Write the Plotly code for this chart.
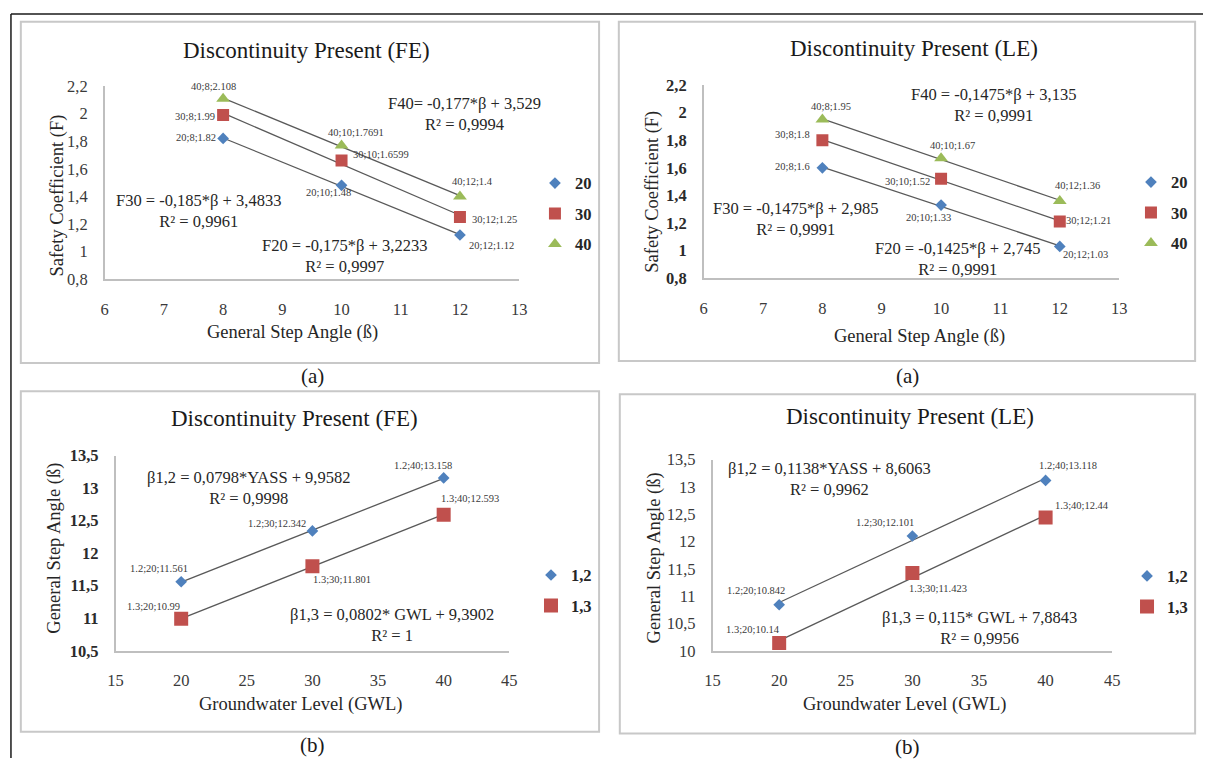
import numpy as np
import plotly.graph_objects as go

W, H = 1211, 768

# ---------------- data ----------------
angle_x = [8, 10, 12]
fe_f20 = [1.82, 1.48, 1.12]
fe_f30 = [1.99, 1.6599, 1.25]
fe_f40 = [2.108, 1.7691, 1.4]
le_f20 = [1.6, 1.33, 1.03]
le_f30 = [1.8, 1.52, 1.21]
le_f40 = [1.95, 1.67, 1.36]

gwl_x = [20, 30, 40]
fe_b12 = [11.561, 12.342, 13.158]
fe_b13 = [10.99, 11.801, 12.593]
le_b12 = [10.842, 12.101, 13.118]
le_b13 = [10.14, 11.423, 12.44]

series_a = ["20", "30", "40"]
series_b = ["1.2", "1.3"]
legend_a = ["20", "30", "40"]
legend_b = ["1,2", "1,3"]

titles = ["Discontinuity Present (FE)", "Discontinuity Present (LE)",
          "Discontinuity Present (FE)", "Discontinuity Present (LE)"]
captions = ["(a)", "(a)", "(b)", "(b)"]
x_titles = ["General Step Angle (ß)", "General Step Angle (ß)",
            "Groundwater Level (GWL)", "Groundwater Level (GWL)"]
y_titles = ["Safety Coefficient (F)", "Safety Coefficient (F)",
            "General Step Angle (ß)", "General Step Angle (ß)"]

eq_fe_a = ["F40= -0,177*β + 3,529<br>R² = 0,9994",
           "F30 = -0,185*β + 3,4833<br>R² = 0,9961",
           "F20 = -0,175*β + 3,2233<br>R² = 0,9997"]
eq_le_a = ["F40 = -0,1475*β + 3,135<br>R² = 0,9991",
           "F30 = -0,1475*β + 2,985<br>R² = 0,9991",
           "F20 = -0,1425*β + 2,745<br>R² = 0,9991"]
eq_fe_b = ["β1,2 = 0,0798*YASS + 9,9582<br>R² = 0,9998",
           "β1,3 = 0,0802* GWL + 9,3902<br>R² = 1"]
eq_le_b = ["β1,2 = 0,1138*YASS + 8,6063<br>R² = 0,9962",
           "β1,3 = 0,115* GWL + 7,8843<br>R² = 0,9956"]

# ---------------- styling ----------------
SERIF = "Liberation Serif, Times New Roman, serif"
COLORS = ["#4F81BD", "#C0504D", "#9BBB59"]
SYMBOLS = ["diamond", "square", "triangle-up"]
SIZES_A = [9, 12, 12]
SIZES_B = [9, 14]
TREND = "#595959"
AXIS = "#BFBFBF"
TXT = "#3a3a3a"


def px(x):
    return x / W


def py(y):
    return 1 - y / H


panels = [
    dict(x=angle_x, ys=[fe_f20, fe_f30, fe_f40], names=series_a, leg=legend_a, sizes=SIZES_A,
         xdom=(98, 518), ydom=(79, 277), xr=[6, 13], yr=[0.8, 2.2], xd=1, yd=0.2, ybold=False,
         offs=[[(-27, -1), (-13, 7), (32, 10)],
               [(-28, 1), (39, -6), (35, 2)],
               [(-10, -12), (14, -13), (13, -15)]],
         eqs=eq_fe_a, eqpos=[(463, 108), (193, 207), (341, 253)],
         title=(302, 43), cap=(309, 376), legpos=(534, 210),
         xt=(288, 332), yt=(50, 191), box=(13, 13, 599, 363)),
    dict(x=angle_x, ys=[le_f20, le_f30, le_f40], names=series_a, leg=legend_a, sizes=SIZES_A,
         xdom=(705, 1126), ydom=(78, 276), xr=[6, 13], yr=[0.8, 2.2], xd=1, yd=0.2, ybold=True,
         offs=[[(-30, -1), (-13, 12), (26, 8)],
               [(-30, -6), (-34, 3), (29, -1)],
               [(9, -13), (11, -13), (18, -15)]],
         eqs=eq_le_a, eqpos=[(999, 98), (798, 215), (962, 256)],
         title=(918, 41), cap=(912, 376), legpos=(1138, 209),
         xt=(924, 336), yt=(653, 187), box=(619, 13, 1203, 361)),
    dict(x=gwl_x, ys=[fe_b12, fe_b13], names=series_b, leg=legend_b, sizes=SIZES_B,
         xdom=(109, 508), ydom=(458, 658), xr=[15, 45], yr=[10.5, 13.5], xd=5, yd=0.5, ybold=True,
         offs=[[(-22, -13), (-35, -7), (-21, -12)],
               [(-28, -12), (30, 13), (26, -16)]],
         eqs=eq_fe_b, eqpos=[(244, 491), (389, 632)],
         title=(290, 420), cap=(309, 755), legpos=(530, 596),
         xt=(296, 713), yt=(47, 553), box=(13, 392, 599, 741)),
    dict(x=gwl_x, ys=[le_b12, le_b13], names=series_b, leg=legend_b, sizes=SIZES_B,
         xdom=(714, 1119), ydom=(462, 658), xr=[15, 45], yr=[10, 13.5], xd=5, yd=0.5, ybold=False,
         offs=[[(-23, -14), (-27, -13), (22, -15)],
               [(-26, -14), (26, 15), (36, -12)]],
         eqs=eq_le_b, eqpos=[(833, 482), (985, 635)],
         title=(914, 418), cap=(912, 757), legpos=(1134, 597),
         xt=(908, 713), yt=(655, 563), box=(620, 395, 1203, 743)),
]

fig = go.Figure()
annotations = []
shapes = []
layout = {}


def paper_text(x, y, text, size, color, angle=0):
    return dict(x=px(x), y=py(y), xref="paper", yref="paper", text=text,
                showarrow=False, xanchor="center", yanchor="middle", align="center",
                textangle=angle, font=dict(family=SERIF, size=size, color=color))


for i, p in enumerate(panels, start=1):
    sfx = "" if i == 1 else str(i)
    xa, ya = "x" + sfx, "y" + sfx
    legname = "legend" + sfx

    # trendlines (least-squares fit of each series)
    for ys in p["ys"]:
        coef = np.polyfit(p["x"], ys, 1)
        xl = [min(p["x"]), max(p["x"])]
        fig.add_trace(go.Scatter(x=xl, y=np.polyval(coef, xl), mode="lines",
                                 line=dict(color=TREND, width=1.3), showlegend=False,
                                 hoverinfo="skip", xaxis=xa, yaxis=ya))
    # markers + data labels
    for j, ys in enumerate(p["ys"]):
        fig.add_trace(go.Scatter(x=p["x"], y=ys, mode="markers",
                                 name="<b>%s</b>" % p["leg"][j],
                                 marker=dict(symbol=SYMBOLS[j], color=COLORS[j], size=p["sizes"][j],
                                             line=dict(width=0)),
                                 legend=legname, legendgroup="g%d_%d" % (i, j),
                                 xaxis=xa, yaxis=ya))
        for k, (xv, yv) in enumerate(zip(p["x"], ys)):
            dx, dy = p["offs"][j][k]
            annotations.append(dict(x=xv, y=yv, xref=xa, yref=ya, showarrow=False,
                                    xanchor="center", yanchor="middle",
                                    text="%s;%s;%s" % (p["names"][j], xv, yv),
                                    xshift=dx, yshift=-dy,
                                    font=dict(family=SERIF, size=10.5, color=TXT)))

    ycol = "#2b2b2b" if p["ybold"] else TXT
    layout["xaxis" + sfx] = dict(
        domain=[px(p["xdom"][0]), px(p["xdom"][1])], range=p["xr"], dtick=p["xd"],
        anchor=ya, showline=True, linecolor=AXIS, linewidth=1.5, showgrid=False,
        zeroline=False, ticks="", ticklabelstandoff=14,
        tickfont=dict(family=SERIF, size=16.5, color=TXT), fixedrange=True)
    layout["yaxis" + sfx] = dict(
        domain=[py(p["ydom"][1]), py(p["ydom"][0])], range=p["yr"], dtick=p["yd"],
        anchor=xa, showline=True, linecolor=AXIS, linewidth=1.5, showgrid=False,
        zeroline=False, ticks="", ticklabelstandoff=12,
        tickfont=dict(family=SERIF, size=16.5, color=ycol,
                      weight="bold" if p["ybold"] else "normal"),
        fixedrange=True)
    layout[legname] = dict(
        x=px(p["legpos"][0]), y=py(p["legpos"][1]), xanchor="left", yanchor="middle",
        bgcolor="rgba(0,0,0,0)", traceorder="grouped", tracegroupgap=6,
        font=dict(family=SERIF, size=16.5, color="#262626"))

    annotations.append(paper_text(p["xt"][0], p["xt"][1], x_titles[i - 1], 18.5, "#262626"))
    annotations.append(paper_text(p["yt"][0], p["yt"][1], y_titles[i - 1], 18.5, "#262626", -90))
    annotations.append(paper_text(p["title"][0], p["title"][1], titles[i - 1], 23, "#1a1a1a"))
    annotations.append(paper_text(p["cap"][0], p["cap"][1], captions[i - 1], 21, "#1a1a1a"))
    for eq, (ex, ey) in zip(p["eqs"], p["eqpos"]):
        annotations.append(paper_text(ex, ey, eq, 16.5, "#262626"))

    b = p["box"]
    shapes.append(dict(type="rect", xref="paper", yref="paper",
                       x0=px(b[0]), x1=px(b[2]), y0=py(b[3]), y1=py(b[1]),
                       line=dict(color="#C8C8C8", width=2), layer="below"))

# outer frame (top and left edges)
shapes.append(dict(type="line", xref="paper", yref="paper", x0=px(3), x1=1, y0=py(5), y1=py(5),
                   line=dict(color="#1a1a1a", width=1.5)))
shapes.append(dict(type="line", xref="paper", yref="paper", x0=px(3), x1=px(3), y0=py(5), y1=0,
                   line=dict(color="#1a1a1a", width=1.5)))

fig.update_layout(
    width=W, height=H, margin=dict(l=0, r=0, t=0, b=0, pad=0),
    paper_bgcolor="white", plot_bgcolor="white",
    separators=", ", annotations=annotations, shapes=shapes,
    font=dict(family=SERIF), hovermode=False,
    **layout,
)

fig.write_html("out.html", config={"displayModeBar": False})
